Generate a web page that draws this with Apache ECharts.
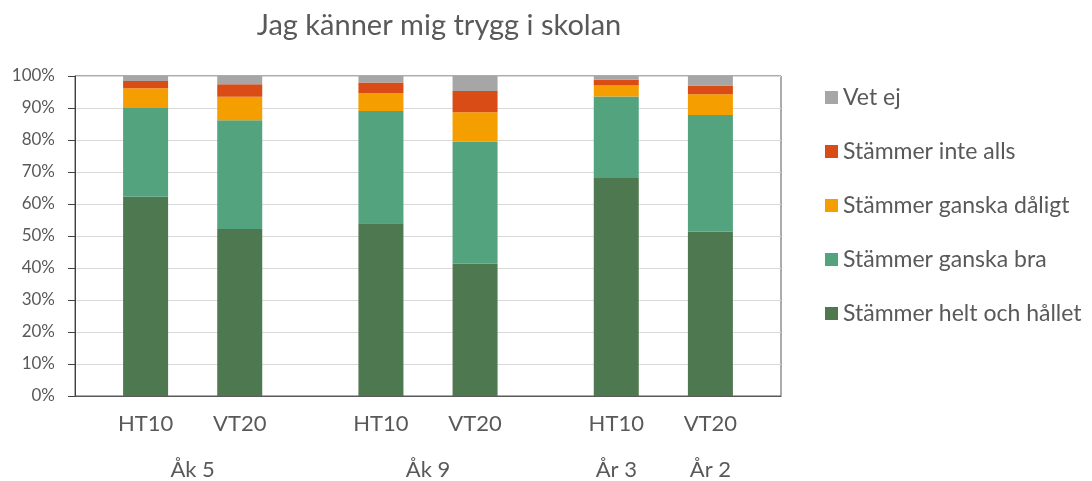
<!DOCTYPE html>
<html>
<head>
<meta charset="utf-8">
<script src="https://cdn.jsdelivr.net/npm/echarts@6/dist/echarts.min.js"></script>
<style>html,body{margin:0;padding:0;background:#fff}#c{width:1092px;height:481px}</style>
</head>
<body>
<div id="c"></div>
<script>
// ---- data ----
const title = 'Jag känner mig trygg i skolan';
const periods = ['HT10', 'VT20', 'HT10', 'VT20', 'HT10', 'VT20'];
const groups = ['Åk 5', 'Åk 9', 'År 3', 'År 2'];
const seriesNames = ['Stämmer helt och hållet', 'Stämmer ganska bra', 'Stämmer ganska dåligt', 'Stämmer inte alls', 'Vet ej'];
const heltOchHallet = [62.3, 52.2, 54.0, 41.3, 68.1, 51.4];
const ganskaBra     = [27.7, 34.0, 35.1, 38.2, 25.5, 36.4];
const ganskaDaligt  = [6.2, 7.3, 5.5, 9.2, 3.4, 6.5];
const inteAlls      = [2.2, 3.9, 3.4, 6.6, 1.8, 2.7];
const vetEj         = [1.6, 2.6, 2.0, 4.7, 1.2, 3.0];
const yTicks = [0, 10, 20, 30, 40, 50, 60, 70, 80, 90, 100];

// ---- layout (slot positions on the category axis) ----
const slotCount = 15;
const barSlots = [1, 3, 6, 8, 11, 13];
const groupSlots = [2, 7, 11, 13];
const colors = ['#4E784F', '#53A37F', '#F59E00', '#D94C16', '#A6A6A6'];

const periodAxis = new Array(slotCount).fill('');
barSlots.forEach((s, i) => periodAxis[s] = periods[i]);
const groupAxis = new Array(slotCount).fill('');
groupSlots.forEach((s, i) => groupAxis[s] = groups[i]);
function toSlots(vals) {
  const arr = new Array(slotCount).fill('-');
  barSlots.forEach((s, i) => arr[s] = vals[i]);
  return arr;
}
const allVals = [heltOchHallet, ganskaBra, ganskaDaligt, inteAlls, vetEj];
const FONT = 'Lato';
const TXT = '#595959';

const chart = echarts.init(document.getElementById('c'), null, {renderer: 'canvas'});
chart.setOption({
  animation: false,
  textStyle: {fontFamily: FONT},
  title: {
    text: title, left: 434, top: 6, textAlign: 'center',
    textStyle: {fontFamily: FONT, fontSize: 29, fontWeight: 'normal', color: TXT}
  },
  legend: {
    orient: 'vertical', left: 820, top: 81,
    itemWidth: 13, itemHeight: 13, itemGap: 31,
    icon: 'rect',
    data: seriesNames.slice().reverse(),
    textStyle: {fontFamily: FONT, fontSize: 23, color: TXT}
  },
  grid: {left: 75, top: 76, right: 311, bottom: 84, show: true, borderColor: '#595959', borderWidth: 1, containLabel: false},
  xAxis: [{
    type: 'category', data: periodAxis, position: 'bottom',
    axisLine: {show: true, lineStyle: {color: '#595959'}},
    axisTick: {show: false},
    axisLabel: {interval: 0, margin: 17, fontFamily: FONT, fontSize: 22, color: TXT}
  }, {
    type: 'category', data: groupAxis, position: 'bottom', offset: 46,
    axisLine: {show: false}, axisTick: {show: false},
    axisLabel: {interval: 0, margin: 17, fontFamily: FONT, fontSize: 22, color: TXT}
  }],
  yAxis: {
    type: 'value', min: yTicks[0], max: yTicks[yTicks.length - 1], interval: 10,
    axisLine: {show: true, lineStyle: {color: '#404040'}},
    axisTick: {show: true, length: 7, lineStyle: {color: '#404040'}},
    axisLabel: {formatter: '{value}%', margin: 20, fontFamily: FONT, fontSize: 17, color: TXT},
    splitLine: {show: true, lineStyle: {color: '#D9D9D9'}}
  },
  series: seriesNames.map((n, k) => ({
    name: n, type: 'bar', stack: 'all', xAxisIndex: 0,
    barWidth: 45,
    data: toSlots(allVals[k]),
    itemStyle: {color: colors[k]},
    emphasis: {disabled: true}
  }))
});
</script>
</body>
</html>
